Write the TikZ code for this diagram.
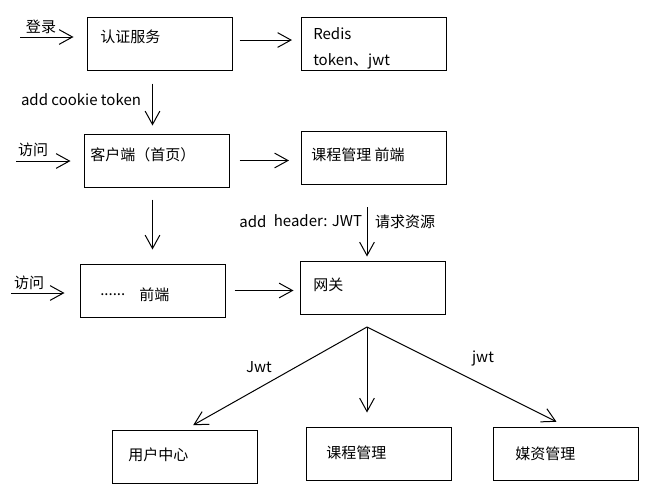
\documentclass[tikz,border=0pt]{standalone}
\usepackage{fontspec}
\setmainfont{Noto Sans CJK SC}
\usepackage{xcolor}
\usepackage{tikz}
\usetikzlibrary{arrows.meta}

\tikzset{
  box/.style={draw,line width=0.75pt,minimum width=108.75pt,minimum height=39.75pt,inner sep=0pt},
  txt/.style={anchor=west,inner sep=0pt,font=\fontsize{11.25pt}{13.5pt}\selectfont},
  lbl/.style={inner sep=0pt,font=\fontsize{11.25pt}{13.5pt}\selectfont},
  arr/.style={line width=0.75pt,-{Straight Barb[length=10pt,width=11pt,line width=0.75pt]}}
}

\begin{document}
\begin{tikzpicture}[x=0.75pt,y=-0.75pt]
				\useasboundingbox[fill=white] (0,0) rectangle (645,496);
				\node[box] (auth) at (159.5,43.5) {};
				\node[box] (redis) at (374,43.5) {};
				\node[box] (client) at (156.5,160.5) {};
				\node[box] (coursefe) at (374,157.5) {};
				\node[box] (dotsfe) at (152.5,290.5) {};
				\node[box] (gateway) at (372.5,287.5) {};
				\node[box] (user) at (184.5,457) {};
				\node[box] (course) at (379,453.5) {};
				\node[box] (media) at (566,453.5) {};
				\node[txt] (authtxt) at (100,37) {认证服务};
				\node[txt] (redistxt) at (313,34) {Redis};
				\node[txt] (tokentxt) at (313,61) {token、jwt};
				\node[txt] (clienttxt) at (90,155) {客户端（首页）};
				\node[txt] (coursefetxt) at (311,155) {课程管理 前端};
				\node[txt] (dotstxt) at (100,295) {......};
				\node[txt] (fetxt) at (139,295) {前端};
				\node[txt] (gatewaytxt) at (313,285) {网关};
				\node[txt] (usertxt) at (128,455) {用户中心};
				\node[txt] (coursetxt) at (326,453) {课程管理};
				\node[txt] (mediatxt) at (515,454) {媒资管理};
				\coordinate (login) at (20,37);
				\coordinate (visita) at (16,161);
				\coordinate (visitb) at (11,293);
				\coordinate (req) at (367,207);
				\coordinate (fork) at (367,327);
				\draw[arr,shorten >=9.75pt] (login) -- (login -| auth.west);
				\draw[arr,shorten <=5.25pt,shorten >=6.75pt] ([yshift=2.6pt]auth.east) -- ([yshift=2.6pt]redis.west);
				\draw[arr,shorten <=9.75pt,shorten >=6pt] (auth.south -| dotsfe) -- (client.north -| dotsfe);
				\draw[arr,shorten >=9.75pt] (visita) -- (visita -| client.west);
				\draw[arr,shorten <=7.5pt,shorten >=9pt] (client.east) -- (client.east -| coursefe.west);
				\draw[arr,shorten <=9pt,shorten >=10.5pt] (client.south -| dotsfe) -- (dotsfe.north);
				\draw[arr,shorten >=3pt] (req) -- (req |- gateway.north);
				\draw[arr,shorten >=11.25pt] (visitb) -- (visitb -| dotsfe.west);
				\draw[arr,shorten <=6.75pt,shorten >=4.5pt] (dotsfe.east) -- (dotsfe.east -| gateway.west);
				\draw[arr,shorten >=7.5pt] (fork) -- (user.north);
				\draw[arr,shorten >=10.5pt] (fork) -- (fork |- course.north);
				\draw[arr,shorten >=8pt] (fork) -- (media.north);
				\node[lbl] (logintxt) at (41,27) {登录};
				\node[lbl] (visitatxt) at (33,150) {访问};
				\node[lbl] (visitbtxt) at (29,283) {访问};
				\node[lbl] (cookietxt) at (81,100) {add cookie token};
				\node[lbl] (addtxt) at (253,222) {add};
				\node[lbl] (headertxt) at (318,221) {header: JWT};
				\node[lbl] (reqtxt) at (405,222) {请求资源};
				\node[lbl] (jwtatxt) at (259,367) {Jwt};
				\node[lbl] (jwtbtxt) at (483,358) {jwt};
			\end{tikzpicture}
\end{document}
